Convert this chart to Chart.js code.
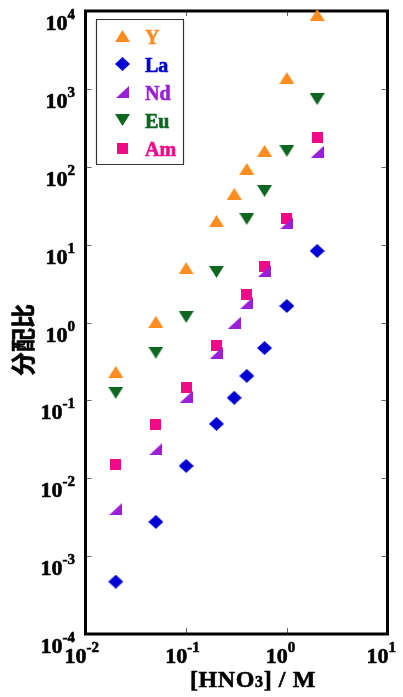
<!DOCTYPE html>
<html><head><meta charset="utf-8">
<script src="https://cdn.jsdelivr.net/npm/chart.js@4/dist/chart.umd.min.js"></script>
<style>html,body{margin:0;padding:0;background:#fff;}canvas{display:block;}</style>
</head><body>
<canvas id="c" width="403" height="697"></canvas>
<script>
// ---- data ----
const hno3  = [0.02, 0.05, 0.1, 0.2, 0.3, 0.4, 0.6, 1, 2];
const names = ['Y', 'La', 'Nd', 'Eu', 'Am'];
const valY  = [0.232, 1.02, 5.0, 20.1, 44.8, 94, 160, 1380, 8890];
const valLa = [0.00047, 0.00275, 0.0144, 0.050, 0.108, 0.206, 0.47, 1.63, 8.3];
const valNd = [0.00405, 0.0238, 0.111, 0.41, 0.99, 1.79, 4.6, 19, 155];
const valEu = [0.125, 0.41, 1.18, 4.47, null, 21.4, 49, 160, 740];
const valAm = [0.0149, 0.0485, 0.145, 0.50, null, 2.26, 5.3, 21.4, 234];
const xTickVals = [0.01, 0.1, 1, 10];
const xTickExp  = ['-2', '-1', '0', '1'];
const yTickVals = [1e-4, 1e-3, 1e-2, 1e-1, 1, 10, 100, 1000, 10000];
const yTickExp  = ['-4', '-3', '-2', '-1', '0', '1', '2', '3', '4'];
const xTitleA = '[HNO', xTitleSub = '3', xTitleB = '] / M';
const yTitle = '分配比';

const colors = ['#ff8c1e', '#0000d2', '#9b1fd6', '#0b6620', '#f00a87'];

function mk(w, h, col, path) {
  const c = document.createElement('canvas'); c.width = w; c.height = h;
  const g = c.getContext('2d'); g.fillStyle = col; g.beginPath(); path(g, w, h); g.closePath(); g.fill();
  return c;
}
const markers = [
  mk(15, 12, colors[0], (g, w, h) => { g.moveTo(w / 2, 0); g.lineTo(w, h); g.lineTo(0, h); }),
  mk(15, 14, colors[1], (g, w, h) => { g.moveTo(w / 2, 0); g.lineTo(w, h / 2); g.lineTo(w / 2, h); g.lineTo(0, h / 2); }),
  mk(13, 12, colors[2], (g, w, h) => { g.moveTo(w, 0); g.lineTo(w, h); g.lineTo(0, h); }),
  mk(15, 12, colors[3], (g, w, h) => { g.moveTo(0, 0); g.lineTo(w, 0); g.lineTo(w / 2, h); }),
  mk(11, 11, colors[4], (g, w, h) => { g.rect(0, 0, w, h); })
];
const series = [valY, valLa, valNd, valEu, valAm];

const datasets = series.map((vals, i) => ({
  label: names[i],
  data: hno3.map((x, j) => vals[j] == null ? null : { x: x, y: vals[j] }).filter(p => p),
  pointStyle: markers[i],
  pointRadius: 7,
  showLine: false,
  clip: false,
  backgroundColor: colors[i],
  borderColor: colors[i]
}));

const SERIF = '"Liberation Serif", "Times New Roman", serif';

function heavyText(ctx, t, x, y, col) {
  ctx.fillStyle = col; ctx.strokeStyle = col; ctx.lineWidth = 0.6;
  ctx.fillText(t, x, y); ctx.strokeText(t, x, y);
}

const deco = {
  id: 'deco',
  beforeDatasetsDraw(chart) {
    const { ctx, chartArea: a, scales: { x, y } } = chart;
    ctx.save();
    ctx.strokeStyle = '#666'; ctx.lineWidth = 1;
    ctx.beginPath();
    xTickVals.forEach(v => {
      const px = Math.round(x.getPixelForValue(v)) + 0.5;
      ctx.moveTo(px, a.bottom); ctx.lineTo(px, a.bottom - 6);
      ctx.moveTo(px, a.top); ctx.lineTo(px, a.top + 5);
    });
    yTickVals.forEach(v => {
      const py = Math.round(y.getPixelForValue(v)) + 0.5;
      ctx.moveTo(a.left, py); ctx.lineTo(a.left + 6, py);
      ctx.moveTo(a.right, py); ctx.lineTo(a.right - 6, py);
    });
    ctx.stroke();
    ctx.strokeStyle = '#000'; ctx.lineWidth = 3;
    ctx.strokeRect(a.left, a.top, a.right - a.left, a.bottom - a.top);
    ctx.restore();
  },
  afterDraw(chart) {
    const { ctx, scales: { x, y } } = chart;
    ctx.save();
    ctx.textBaseline = 'alphabetic';
    ctx.lineJoin = 'round';
    const big = 'bold 22px ' + SERIF, small = 'bold 15px ' + SERIF;
    // y tick labels
    yTickVals.forEach((v, i) => {
      const py = y.getPixelForValue(v);
      ctx.font = small; ctx.textAlign = 'right';
      const ew = ctx.measureText(yTickExp[i]).width;
      heavyText(ctx, yTickExp[i], 75, py + 8, '#000');
      ctx.font = big;
      heavyText(ctx, '10', 75 - ew, py + 19, '#000');
    });
    // x tick labels
    xTickVals.forEach((v, i) => {
      const px = x.getPixelForValue(v);
      ctx.font = big; ctx.textAlign = 'right';
      heavyText(ctx, '10', px + 1, 663, '#000');
      ctx.font = small; ctx.textAlign = 'left';
      heavyText(ctx, xTickExp[i], px + 1, 652, '#000');
    });
    // x title
    ctx.textAlign = 'left';
    ctx.letterSpacing = '0.6px';
    let tx = 190;
    ctx.font = 'bold 24px ' + SERIF; heavyText(ctx, xTitleA, tx, 687, '#000'); tx += ctx.measureText(xTitleA).width;
    ctx.font = 'bold 16px ' + SERIF; heavyText(ctx, xTitleSub, tx, 687, '#000'); tx += ctx.measureText(xTitleSub).width;
    ctx.font = 'bold 24px ' + SERIF; heavyText(ctx, xTitleB, tx, 687, '#000');
    ctx.letterSpacing = '0px';
    // y title
    ctx.save();
    ctx.translate(23, 340); ctx.rotate(-Math.PI / 2);
    ctx.font = 'bold 24px "Noto Sans CJK SC", sans-serif';
    ctx.textAlign = 'center'; ctx.textBaseline = 'middle';
    heavyText(ctx, yTitle, 0, 0, '#000');
    ctx.restore();
    // legend
    ctx.strokeStyle = '#333'; ctx.lineWidth = 1.2;
    ctx.strokeRect(96.5, 19.5, 87, 145);
    ctx.font = 'bold 20px ' + SERIF; ctx.textAlign = 'left';
    names.forEach((n, i) => {
      const ry = 36 + 28 * i;
      const m = markers[i];
      ctx.drawImage(m, Math.round(122 - m.width / 2), Math.round(ry - m.height / 2));
      heavyText(ctx, n, 145, ry + 7.5, colors[i]);
    });
    ctx.restore();
  }
};

new Chart(document.getElementById('c'), {
  type: 'scatter',
  data: { datasets },
  options: {
    responsive: false,
    devicePixelRatio: 1,
    animation: false,
    layout: { padding: { left: 85.5, top: 11, right: 15.5, bottom: 63 } },
    plugins: { legend: { display: false }, tooltip: { enabled: false } },
    scales: {
      x: { type: 'logarithmic', min: 0.01, max: 10, display: false },
      y: { type: 'logarithmic', min: 1e-4, max: 1e4, display: false }
    }
  },
  plugins: [deco]
});
</script>
</body></html>
